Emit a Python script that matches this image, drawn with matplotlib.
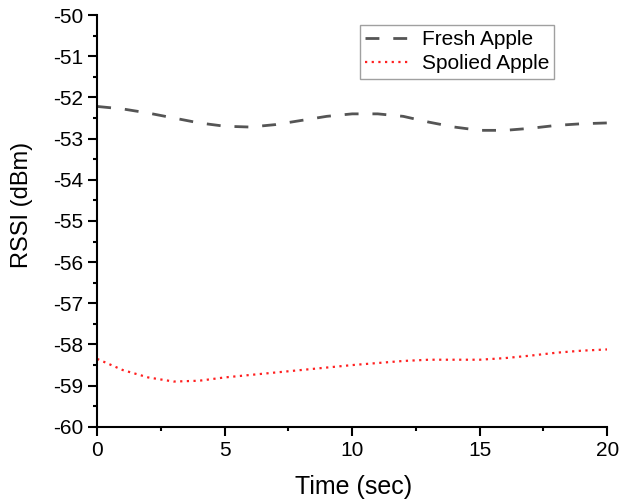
import matplotlib.pyplot as plt
from matplotlib.ticker import MultipleLocator

plt.rcParams['font.family'] = ['Liberation Sans', 'DejaVu Sans']
plt.rcParams['axes.unicode_minus'] = False

time_sec = list(range(0, 21))
fresh_apple = [-52.22, -52.28, -52.38, -52.50, -52.62, -52.70, -52.72, -52.66,
               -52.56, -52.46, -52.40, -52.40, -52.46, -52.60, -52.72, -52.80,
               -52.80, -52.75, -52.68, -52.64, -52.62]
spoiled_apple = [-58.35, -58.62, -58.80, -58.90, -58.88, -58.80, -58.74, -58.68,
                 -58.62, -58.56, -58.50, -58.45, -58.40, -58.37, -58.37, -58.37,
                 -58.33, -58.27, -58.20, -58.15, -58.12]

fig = plt.figure(figsize=(6.19, 5.01), dpi=100)
ax = fig.add_axes([0.157, 0.148, 0.824, 0.822])

ax.plot(time_sec, fresh_apple, color="#555555", linestyle=(0, (5, 5)), lw=2,
        label="Fresh Apple")
ax.plot(time_sec, spoiled_apple, color="#ff2020", linestyle=(0, (1, 2)), lw=1.6,
        label="Spolied Apple")

ax.set_xlim(0, 20)
ax.set_ylim(-60, -50)
ax.xaxis.set_major_locator(MultipleLocator(5))
ax.xaxis.set_minor_locator(MultipleLocator(2.5))
ax.yaxis.set_major_locator(MultipleLocator(1))
ax.yaxis.set_minor_locator(MultipleLocator(0.5))

for side in ["top", "right"]:
    ax.spines[side].set_visible(False)
for side in ["left", "bottom"]:
    ax.spines[side].set_linewidth(1.5)

ax.tick_params(which="major", direction="out", length=6.5, width=1.5, labelsize=15)
ax.tick_params(which="minor", direction="out", length=3, width=1.5)

ax.set_xlabel("Time (sec)", fontsize=18)
ax.set_ylabel("RSSI (dBm)", fontsize=17)
ax.xaxis.set_label_coords(0.503, -0.117)
ax.yaxis.set_label_coords(-0.125, 0.539)

leg = ax.legend(loc="upper right", bbox_to_anchor=(0.896, 0.976), fontsize=15,
                fancybox=False, edgecolor="#888888", handlelength=2.2,
                borderpad=0.25, labelspacing=0.25, handletextpad=0.5,
                borderaxespad=0)
leg.get_frame().set_linewidth(1.0)

fig.savefig("out.png", dpi=100)
